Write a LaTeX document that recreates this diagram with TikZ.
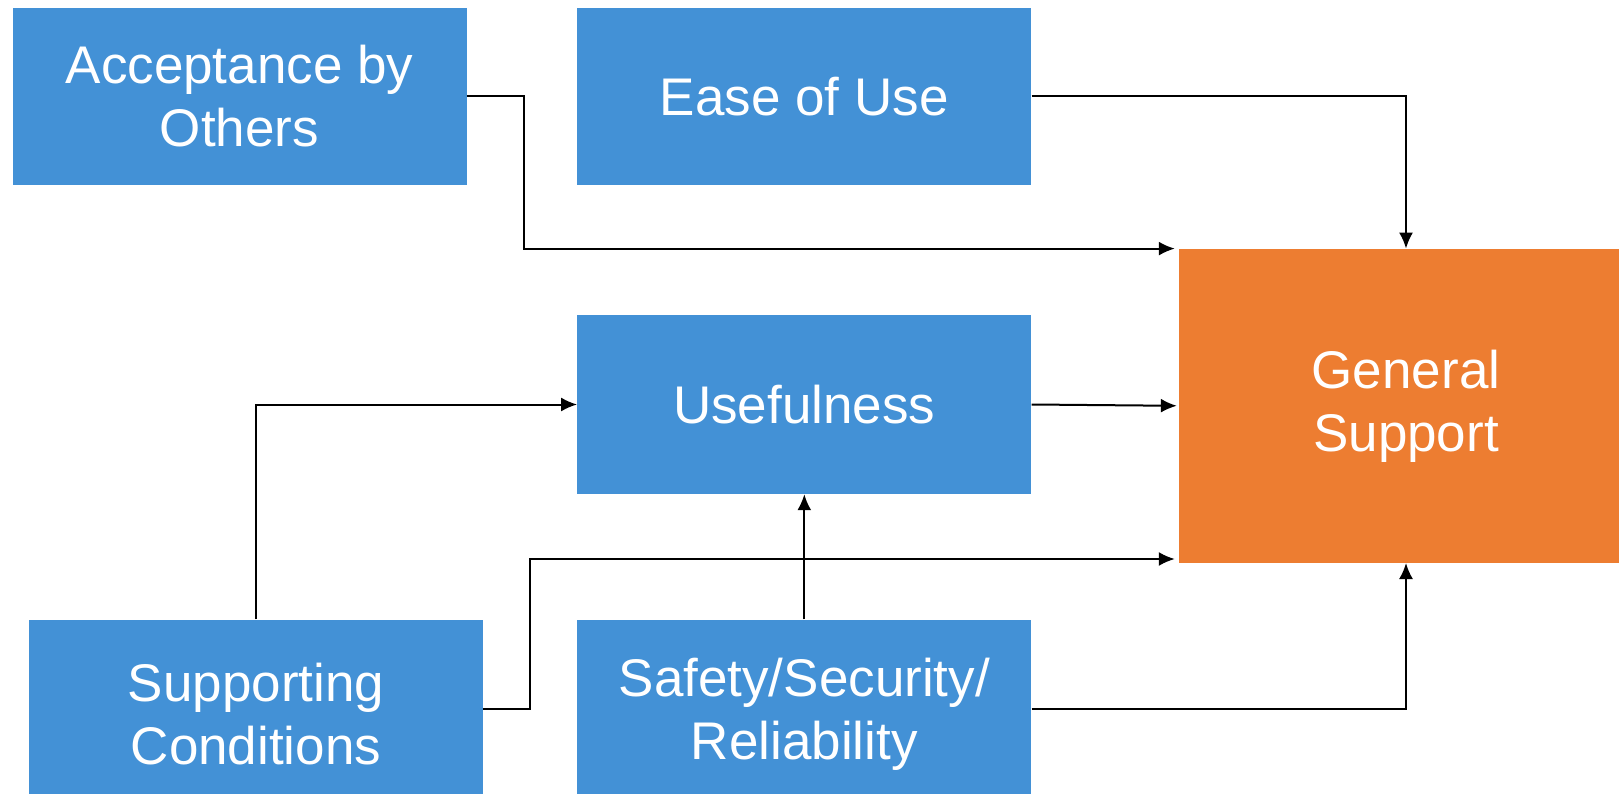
\documentclass[tikz,border=0pt]{standalone}
\usepackage{fontspec}
\setmainfont{Liberation Sans}
\usepackage{tikz}
\usetikzlibrary{calc}
\usetikzlibrary{arrows.meta}
\usetikzlibrary{positioning}
\definecolor{boxblue}{RGB}{67,145,214}
\definecolor{boxorange}{RGB}{237,125,49}
\tikzset{>={Latex[length=16pt,width=14pt]}}
\tikzstyle{factor} = [rectangle, draw=none, fill=boxblue, text=white, inner sep=0, align=center, minimum width=454pt, minimum height=177pt, font=\fontsize{53pt}{63pt}\selectfont]
\tikzstyle{outcome} = [factor, fill=boxorange, minimum width=454pt, minimum height=314pt]
\tikzstyle{link} = [->, line width=2pt]

\begin{document}
\begin{tikzpicture}[x=1pt, y=-1pt]
\useasboundingbox (0,0) rectangle (1619,794);
\node [factor](acc) at (239.5, 96.5) {Acceptance by\\Others};
\node [factor](ease) at (804.3, 96.5) {Ease of Use};
\node [factor, minimum height=179pt](use) at (804.3, 404.5) {Usefulness};
% right side of the box runs off the page, as do the bottoms of the lower boxes
\node [outcome](gs) at (1406, 405.8) {General\\Support};
\node [factor, minimum height=190pt](sup) at (256, 714.5) {Supporting\\Conditions};
\node [factor, minimum height=190pt](saf) at (804.3, 714.5) {Safety/Security/\\Reliability};
\draw [link] (acc.east) -- ++(57,0) |- ([xshift=-4pt]gs.north west);
\draw [link] (ease.east) -| (gs.north);
\draw [link] (use.east) -- ([xshift=-2pt]gs.west);
\draw [link] (sup.north) |- (use.west);
\draw [link] ([yshift=6pt]sup.east) -- ++(46.5,0) |- ([xshift=-4pt, yshift=4pt]gs.south west);
\draw [link] (saf.north) -- (use.south);
\draw [link] ([yshift=6pt]saf.east) -| (gs.south);
\end{tikzpicture}
\end{document}
